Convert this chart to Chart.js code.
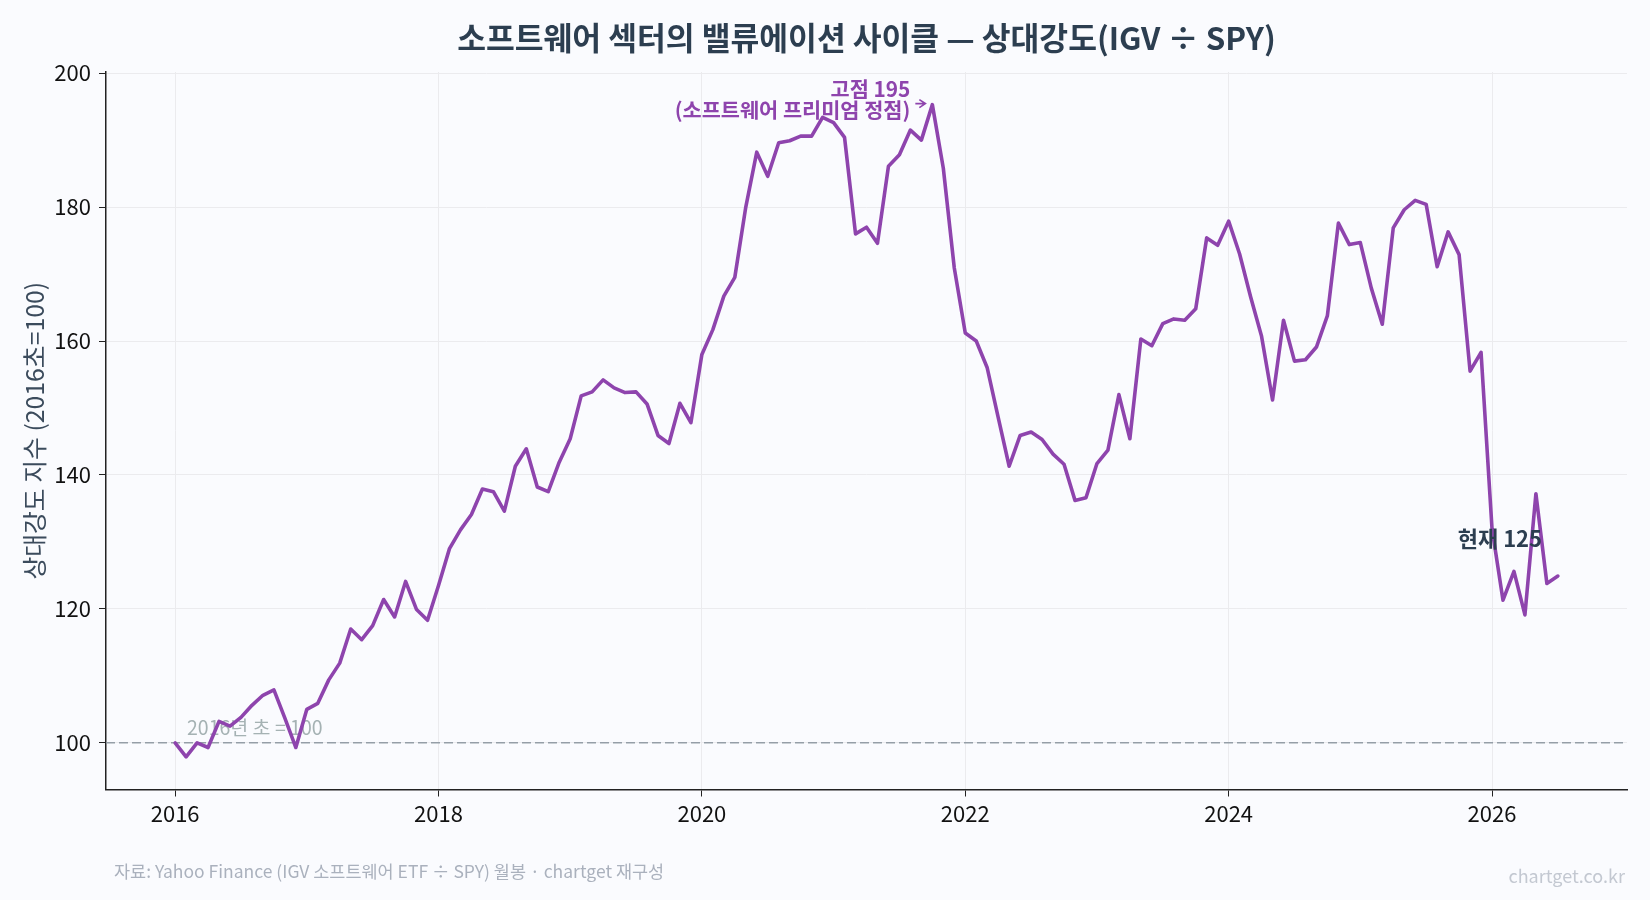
<!DOCTYPE html>
<html><head><meta charset="utf-8">
<script src="https://cdn.jsdelivr.net/npm/chart.js@4.4.1/dist/chart.umd.min.js"></script>
<style>html,body{margin:0;padding:0;background:#fafbfe;}canvas{display:block;}</style>
</head><body>
<canvas id="c" width="1650" height="900"></canvas>
<script>
// ---- data (monthly, IGV / SPY relative strength, 2016-01 = 100) ----
const startYear = 2016;
const startMonth = 1;
const rs2016 = [100.0, 97.9, 100.0, 99.3, 103.2, 102.5, 103.8, 105.6, 107.1, 107.9, 103.7, 99.3];
const rs2017 = [105.0, 105.9, 109.4, 111.9, 117.0, 115.4, 117.5, 121.4, 118.8, 124.1, 119.9, 118.3];
const rs2018 = [123.5, 129.0, 131.8, 134.1, 137.9, 137.5, 134.6, 141.3, 143.9, 138.2, 137.5, 141.9];
const rs2019 = [145.4, 151.8, 152.4, 154.2, 153.0, 152.3, 152.4, 150.6, 145.9, 144.7, 150.7, 147.8];
const rs2020 = [158.0, 161.7, 166.7, 169.5, 180.0, 188.2, 184.6, 189.6, 189.9, 190.6, 190.6, 193.4];
const rs2021 = [192.6, 190.4, 176.0, 177.0, 174.6, 186.1, 187.8, 191.5, 190.0, 195.3, 185.8, 170.9];
const rs2022 = [161.2, 160.0, 156.0, 148.6, 141.3, 145.9, 146.4, 145.3, 143.1, 141.6, 136.2, 136.6];
const rs2023 = [141.7, 143.7, 152.0, 145.4, 160.3, 159.3, 162.6, 163.3, 163.1, 164.8, 175.4, 174.3];
const rs2024 = [177.9, 173.0, 166.6, 160.7, 151.2, 163.1, 157.0, 157.2, 159.1, 163.8, 177.6, 174.4];
const rs2025 = [174.7, 167.9, 162.5, 176.9, 179.6, 181.0, 180.4, 171.1, 176.3, 172.9, 155.5, 158.3];
const rs2026 = [132.0, 121.3, 125.6, 119.1, 137.2, 123.8, 124.9];

const xTicks = [2016, 2018, 2020, 2022, 2024, 2026];
const yTicks = [100, 120, 140, 160, 180, 200];
const baseValue = 100;

const titleText = '소프트웨어 섹터의 밸류에이션 사이클 — 상대강도(IGV ÷ SPY)';
const yLabelText = '상대강도 지수 (2016초=100)';
const baseLabel = '2016년 초 = 100';
const peakLabel = ['고점 195', '(소프트웨어 프리미엄 정점)'];
const nowLabel = '현재 125';
const sourceText = '자료: Yahoo Finance (IGV 소프트웨어 ETF ÷ SPY) 월봉 · chartget 재구성';
const brandText = 'chartget.co.kr';

// ---- build points ----
const series = [].concat(rs2016, rs2017, rs2018, rs2019, rs2020, rs2021, rs2022, rs2023, rs2024, rs2025, rs2026);
const points = series.map((v, i) => ({ x: startYear + (startMonth - 1 + i) / 12, y: v }));
const xs = points.map(p => p.x), ys = points.map(p => p.y);
const xLo = Math.min(...xs), xHi = Math.max(...xs);
const yLo = Math.min(...ys), yHi = Math.max(...ys);
const xMin = xLo - 0.05 * (xHi - xLo), xMax = xHi + 0.05 * (xHi - xLo);
const yMin = yLo - 0.05 * (yHi - yLo), yMax = yHi + 0.05 * (yHi - yLo);
let peakIdx = 0; ys.forEach((v, i) => { if (v > ys[peakIdx]) peakIdx = i; });
const lastIdx = points.length - 1;

const FONT = "'Noto Sans CJK KR', 'Noto Sans', sans-serif";
const PURPLE = '#8e44ad';
const DARK = '#2c3e50';

const decor = {
  id: 'decor',
  beforeDatasetsDraw(chart) {
    const { ctx, chartArea: a, scales: { x, y } } = chart;
    const yb = y.getPixelForValue(baseValue);
    ctx.save();
    ctx.font = `19.5px ${FONT}`;
    ctx.fillStyle = 'rgba(149,165,166,0.85)';
    ctx.textAlign = 'left';
    ctx.textBaseline = 'middle';
    ctx.fillText(baseLabel, x.getPixelForValue(2016.09), y.getPixelForValue(102.3));
    ctx.strokeStyle = 'rgba(140,150,158,0.9)';
    ctx.lineWidth = 1.5;
    ctx.setLineDash([9, 4]);
    ctx.beginPath();
    ctx.moveTo(a.left, yb);
    ctx.lineTo(a.right, yb);
    ctx.stroke();
    ctx.restore();
  },
  afterDraw(chart) {
    const { ctx, chartArea: a, scales: { x, y } } = chart;
    ctx.save();
    // title
    ctx.fillStyle = DARK;
    ctx.font = `bold 31.3px ${FONT}`;
    ctx.textAlign = 'center';
    ctx.textBaseline = 'middle';
    ctx.fillText(titleText, (a.left + a.right) / 2, 38);
    // y label
    ctx.save();
    ctx.translate(35, (a.top + a.bottom) / 2);
    ctx.rotate(-Math.PI / 2);
    ctx.font = `24.8px ${FONT}`;
    ctx.fillStyle = '#3b4b5c';
    ctx.fillText(yLabelText, 0, 0);
    ctx.restore();
    // peak annotation
    const px = x.getPixelForValue(points[peakIdx].x), py = y.getPixelForValue(points[peakIdx].y);
    ctx.fillStyle = PURPLE;
    ctx.font = `bold 20.8px ${FONT}`;
    ctx.textAlign = 'right';
    ctx.fillText(peakLabel[0], px - 22, py - 16);
    ctx.fillText(peakLabel[1], px - 22, py + 5);
    ctx.strokeStyle = PURPLE;
    ctx.lineWidth = 1.7;
    ctx.beginPath();
    ctx.moveTo(px - 17, py - 1);
    ctx.lineTo(px - 7, py - 1);
    ctx.moveTo(px - 13, py - 5);
    ctx.lineTo(px - 7, py - 1);
    ctx.lineTo(px - 13, py + 3);
    ctx.stroke();
    // current label
    const lx = x.getPixelForValue(points[lastIdx].x), ly = y.getPixelForValue(points[lastIdx].y);
    ctx.fillStyle = DARK;
    ctx.font = `bold 22px ${FONT}`;
    ctx.textAlign = 'center';
    ctx.fillText(nowLabel, lx - 58, ly - 37);
    // footer
    ctx.font = `17.5px ${FONT}`;
    ctx.fillStyle = '#aab1bd';
    ctx.textAlign = 'left';
    ctx.fillText(sourceText, 114, 871);
    ctx.font = `18px ${FONT}`;
    ctx.fillStyle = '#c3c8d1';
    ctx.textAlign = 'right';
    ctx.fillText(brandText, 1625, 876);
    ctx.restore();
  }
};

new Chart(document.getElementById('c').getContext('2d'), {
  type: 'line',
  data: {
    datasets: [{
      data: points,
      borderColor: PURPLE,
      borderWidth: 3.6,
      pointRadius: 0,
      pointHoverRadius: 0,
      tension: 0,
      fill: false,
      borderJoinStyle: 'round',
      borderCapStyle: 'round'
    }]
  },
  options: {
    responsive: false,
    animation: false,
    devicePixelRatio: 1,
    layout: { padding: { top: 72, right: 23, bottom: 60.5, left: 0 } },
    plugins: { legend: { display: false }, tooltip: { enabled: false }, title: { display: false } },
    scales: {
      x: {
        type: 'linear', min: xMin, max: xMax,
        afterBuildTicks: s => { s.ticks = xTicks.map(v => ({ value: v })); },
        afterFit: s => { s.height = 50; },
        grid: { color: '#ebebee', lineWidth: 1, tickLength: 7, tickColor: '#222', drawTicks: true },
        border: { display: true, color: '#222', width: 1.5 },
        ticks: { color: '#111', font: { family: FONT, size: 22 }, padding: 4, autoSkip: false, maxRotation: 0, callback: v => String(v) }
      },
      y: {
        type: 'linear', min: yMin, max: yMax,
        afterBuildTicks: s => { s.ticks = yTicks.map(v => ({ value: v })); },
        afterFit: s => { s.width = 106; },
        grid: { color: '#ebebee', lineWidth: 1, tickLength: 7, tickColor: '#222', drawTicks: true },
        border: { display: true, color: '#222', width: 1.5 },
        ticks: { color: '#111', font: { family: FONT, size: 22 }, padding: 8, autoSkip: false, callback: v => String(v) }
      }
    }
  },
  plugins: [decor]
});
</script>
</body></html>
